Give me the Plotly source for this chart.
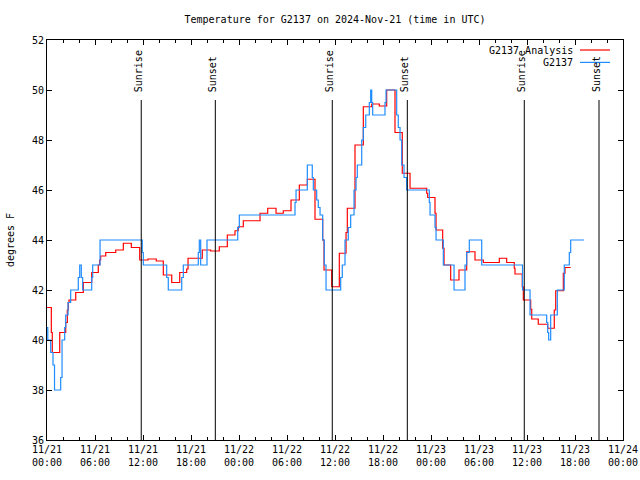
import pandas as pd
import plotly.graph_objects as go

# ---------------- data ----------------
base_time = "2024-11-21 00:00"

ana_hours = [0.0, 0.54, 0.66, 1.59, 2.34, 2.54, 2.66, 2.75, 3.59, 4.54, 5.59, 6.41, 6.59, 6.71, 7.34,
             8.59, 9.54, 10.54, 11.59, 12.63, 13.66, 14.54, 15.59, 16.59, 17.46, 17.63, 19.41, 20.46,
             21.54, 22.54, 23.5, 23.91, 24.54, 26.63, 27.59, 28.63, 29.54, 30.5, 31.54, 32.54, 33.5,
             34.46, 34.63, 35.59, 36.54, 37.38, 37.54, 38.5, 39.54, 40.59, 41.54, 42.46, 43.5, 44.41,
             45.38, 47.46, 47.59, 48.5, 48.63, 49.46, 49.63, 50.46, 51.5, 52.46, 53.5, 54.54, 56.54,
             57.46, 58.41, 58.5, 59.41, 59.54, 60.46, 60.59, 61.41, 62.59, 63.41, 63.59, 64.54, 64.75,
             65.46]
ana_temp = [41.3, 40.3, 39.5, 40.3, 40.7, 41.2, 41.5, 41.6, 41.9, 42.3, 42.7, 43.0, 43.2, 43.36, 43.5,
            43.6, 43.87, 43.7, 43.2, 43.24, 43.16, 42.6, 42.3, 42.7, 42.84, 43.27, 43.6, 43.56,
            43.73, 44.2, 44.37, 44.53, 44.77, 45.07, 45.27, 45.07, 45.17, 45.6, 46.2, 46.43, 44.83,
            44.0, 42.8, 42.13, 43.47, 44.3, 45.27, 47.8, 49.33, 49.44, 49.36, 50.0, 48.3, 46.67,
            46.07, 45.87, 45.7, 45.07, 44.4, 43.67, 43.0, 42.4, 42.8, 43.53, 43.2, 43.1, 43.27,
            43.1, 42.87, 42.64, 42.13, 41.6, 41.23, 40.84, 40.63, 40.47, 41.2, 41.97, 42.67, 42.9,
            42.9]

obs_hours = [0.0, 0.1, 0.46, 0.75, 0.94, 1.71, 1.88, 2.21, 2.34, 2.63, 2.96, 3.91, 4.09, 4.29, 4.46,
             5.59, 5.71, 6.63, 11.91, 12.04, 14.96, 15.16, 16.84, 17.04, 18.91, 19.04, 19.21, 20.0,
             23.84, 24.04, 31.0, 31.13, 32.54, 33.16, 33.29, 33.71, 33.91, 34.13, 34.46, 34.66, 34.88,
             36.71, 36.91, 37.25, 37.66, 37.96, 38.38, 38.63, 38.79, 39.34, 39.54, 39.84, 40.29,
             40.46, 40.59, 40.71, 42.25, 42.38, 43.71, 43.91, 44.13, 44.34, 44.63, 44.96, 47.79,
             47.88, 48.5, 48.63, 49.54, 50.88, 52.25, 52.46, 52.79, 54.34, 59.44, 60.38, 62.46,
             62.59, 62.71, 62.96, 63.79, 64.66, 65.29, 65.46, 67.13]
obs_temp = [40.5, 40.0, 39.5, 39.0, 38.0, 38.5, 40.0, 40.5, 41.0, 41.5, 42.0, 42.5, 43.0, 42.5, 42.0,
            42.5, 43.0, 44.0, 43.5, 43.0, 42.5, 42.0, 42.5, 43.0, 43.5, 44.0, 43.0, 44.0,
            44.5, 45.0, 45.5, 46.0, 47.0, 46.5, 46.0, 45.6, 45.3, 45.0, 44.0, 43.0, 42.0,
            42.5, 43.0, 44.0, 44.5, 45.0, 46.0, 46.5, 47.0, 48.0, 48.5, 49.0, 49.5,
            50.0, 49.5, 49.0, 49.5, 50.0, 49.0, 48.5, 48.0, 47.0, 46.5, 46.0, 45.5,
            45.0, 44.5, 44.0, 43.0, 42.0, 43.0, 43.5, 44.0, 43.0, 42.0, 41.0, 40.7,
            40.3, 40.0, 41.0, 42.0, 43.0, 43.5, 44.0, 44.0]

sun_hours = [11.78, 21.04, 35.66, 45.04, 59.66, 69.0]
sun_labels = ["Sunrise", "Sunset", "Sunrise", "Sunset", "Sunrise", "Sunset"]
sun_line_top = 49.6

series_names = ["G2137 Analysis", "G2137"]
series_colors = ["#ff0000", "#1e8cff"]

x_range_hours = [0, 72]
y_range = [36, 52]

# ---------------- build ----------------
t0 = pd.Timestamp(base_time)
to_time = lambda hrs: [t0 + pd.Timedelta(hours=h) for h in hrs]

W, H = 640, 480
font_family = "DejaVu Sans Mono"
fig = go.Figure()

fig.add_trace(go.Scatter(x=to_time(ana_hours), y=ana_temp, mode="lines", line_shape="hv",
                         line=dict(color=series_colors[0], width=1.2), name=series_names[0],
                         showlegend=False))
fig.add_trace(go.Scatter(x=to_time(obs_hours), y=obs_temp, mode="lines", line_shape="hv",
                         line=dict(color=series_colors[1], width=1.2), name=series_names[1],
                         showlegend=False))

for h, lab in zip(sun_hours, sun_labels):
    t = t0 + pd.Timedelta(hours=h)
    fig.add_shape(type="line", xref="x", yref="y", x0=t, x1=t, y0=y_range[0], y1=sun_line_top,
                  line=dict(color="black", width=1))
    fig.add_annotation(x=t, y=sun_line_top, xref="x", yref="y", text=lab, textangle=-90,
                       showarrow=False, xanchor="center", yanchor="bottom", xshift=-3, yshift=6,
                       font=dict(family=font_family, size=10, color="black"))

# gnuplot-style key (text right, sample to the right)
key_rows_y = [0.975, 0.944]
for name, color, yy in zip(series_names, series_colors, key_rows_y):
    fig.add_annotation(x=0.9167, y=yy, xref="paper", yref="paper", text=name, showarrow=False,
                       xanchor="right", yanchor="middle",
                       font=dict(family=font_family, size=10, color="black"))
    fig.add_shape(type="line", xref="paper", yref="paper", x0=0.9253, x1=0.9774, y0=yy, y1=yy,
                  line=dict(color=color, width=1.2))

fig.update_layout(
    width=W, height=H,
    margin=dict(l=47, r=17, t=40, b=40, autoexpand=False),
    paper_bgcolor="white", plot_bgcolor="white",
    font=dict(family=font_family, size=10, color="black"),
    title=dict(text="Temperature for G2137 on 2024-Nov-21 (time in UTC)", x=335 / W,
               xanchor="center", y=1 - 19 / H, yanchor="middle",
               font=dict(family=font_family, size=10, color="black")),
)
fig.update_xaxes(
    range=to_time(x_range_hours), type="date", automargin=False,
    dtick=6 * 3600 * 1000, tick0=t0, tickformat="%m/%d<br>%H:%M",
    ticks="inside", ticklen=5, tickcolor="black", tickwidth=1,
    minor=dict(dtick=2 * 3600 * 1000, ticks="inside", ticklen=3, tickcolor="black", showgrid=False),
    showline=True, linecolor="black", linewidth=1, mirror="ticks",
    showgrid=False, zeroline=False,
)
fig.update_yaxes(
    range=y_range, dtick=2, automargin=False, ticks="inside", ticklen=5, tickcolor="black", tickwidth=1,
    showline=True, linecolor="black", linewidth=1, mirror="ticks",
    showgrid=False, zeroline=False,
    title=dict(text="degrees F", standoff=15, font=dict(family=font_family, size=10)),
)

fig.write_html("out.html", config={"displayModeBar": False},
               post_script="document.body.style.margin='0';document.body.style.overflow='hidden';")
